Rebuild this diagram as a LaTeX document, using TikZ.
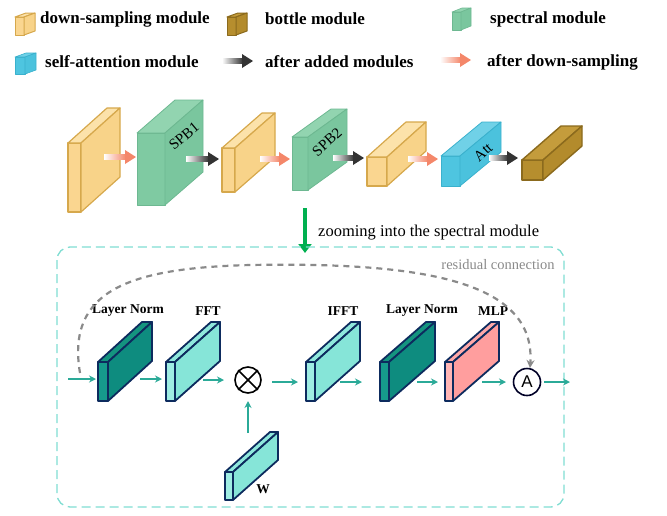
\documentclass[tikz,border=0pt]{standalone}
\usepackage{fontspec}
\setmainfont{Liberation Serif}
\setsansfont{Liberation Sans}
\usetikzlibrary{arrows.meta,calc}

% top-row colours
\definecolor{ylwF}{HTML}{FAD690}\definecolor{ylwT}{HTML}{FCE2AA}\definecolor{ylwS}{HTML}{F8D389}\definecolor{ylwE}{HTML}{D6A84C}
\definecolor{grnF}{HTML}{7FCAA2}\definecolor{grnT}{HTML}{92D4B0}\definecolor{grnS}{HTML}{7AC69E}\definecolor{grnE}{HTML}{6DB891}
\definecolor{cyaF}{HTML}{4EC5E0}\definecolor{cyaT}{HTML}{70D1E7}\definecolor{cyaS}{HTML}{4BC2DD}\definecolor{cyaE}{HTML}{3AB1CD}
\definecolor{gldF}{HTML}{B68E2E}\definecolor{gldT}{HTML}{C49C3C}\definecolor{gldS}{HTML}{B38B2C}\definecolor{gldE}{HTML}{8B6A1D}
% bottom slabs
\definecolor{dtlF}{HTML}{169A8C}\definecolor{dtlT}{HTML}{14947F}\definecolor{dtlS}{HTML}{0E8C7F}\definecolor{dtlE}{HTML}{0D2B5E}
\definecolor{aquF}{HTML}{9FEDE3}\definecolor{aquT}{HTML}{8FE8DC}\definecolor{aquS}{HTML}{86E5D8}\definecolor{aquE}{HTML}{0D2B5E}
\definecolor{pnkF}{HTML}{FFB5B5}\definecolor{pnkT}{HTML}{FFA8A8}\definecolor{pnkS}{HTML}{FF9E9E}\definecolor{pnkE}{HTML}{0D2B5E}
% others
\definecolor{salm}{HTML}{F4876A}
\definecolor{darkarr}{HTML}{333333}
\definecolor{tealA}{HTML}{2BAA98}
\definecolor{zoomgreen}{HTML}{00B050}
\definecolor{boxteal}{HTML}{80DDD2}
\definecolor{resgray}{HTML}{8A8A8A}

% cuboid: x y (front top-left), w h, dx dy (depth), colour prefix, line width
\newcommand\cuboid[8]{%
  \filldraw[fill=#7F,draw=#7E,line width=#8,line join=round] (#1,#2) rectangle (#1+#3,#2+#4);
  \filldraw[fill=#7T,draw=#7E,line width=#8,line join=round] (#1,#2) -- (#1+#3,#2) -- (#1+#3+#5,#2+#6) -- (#1+#5,#2+#6) -- cycle;
  \filldraw[fill=#7S,draw=#7E,line width=#8,line join=round] (#1+#3,#2) -- (#1+#3+#5,#2+#6) -- (#1+#3+#5,#2+#6+#4) -- (#1+#3,#2+#4) -- cycle;
}
% fading arrow between two named coordinates
\newcommand\fadearrow[3]{%
  \shade[left color=white,right color=#3] ($(#1)+(0,-2.6)$) rectangle ($(#2)+(-10,2.6)$);
  \fill[#3] ($(#2)+(-11,-7)$) -- (#2) -- ($(#2)+(-11,7)$) -- cycle;
}

\tikzset{
  legendtxt/.style={anchor=west,inner sep=0,font=\fontsize{17}{20}\selectfont\bfseries},
  blocklbl/.style={inner sep=0,font=\fontsize{15}{15}\selectfont},
  slablbl/.style={inner sep=0,font=\fontsize{13.5}{14}\selectfont\bfseries},
  tarrow/.style={draw=tealA,line width=1.6pt,-{Stealth[length=7pt,width=7pt]}},
  resid/.style={draw=resgray,line width=2.2pt,dash pattern=on 6pt off 5pt,-{Stealth[length=8pt,width=8pt]}},
}

\begin{document}
\begin{tikzpicture}[x=1pt,y=-1pt]
\useasboundingbox (0,0) rectangle (667,515);

% ---------- legend ----------
\cuboid{15}{17}{9}{18}{11}{-4}{ylw}{1pt}
\node[legendtxt] (lg1) at (40,19) {down-sampling module};
\cuboid{227}{17}{9}{18}{11}{-4}{gld}{1pt}
\node[legendtxt] (lg2) at (265,19) {bottle module};
\cuboid{452}{12}{9}{18}{10}{-4}{grn}{0.6pt}
\node[legendtxt] (lg3) at (490,19) {spectral module};
\cuboid{15}{57}{10}{17}{11}{-4}{cya}{0.6pt}
\node[legendtxt] (lg4) at (45,62) {self-attention module};
\coordinate (lga1s) at (222,61); \coordinate (lga1e) at (253,61);
\fadearrow{lga1s}{lga1e}{darkarr}
\node[legendtxt] (lg5) at (265,62) {after added modules};
\coordinate (lga2s) at (440,60); \coordinate (lga2e) at (471,60);
\fadearrow{lga2s}{lga2e}{salm}
\node[legendtxt] (lg6) at (487,62) {after down-sampling};

% ---------- top row ----------
\cuboid{68}{143}{13}{69}{39}{-35}{ylw}{1.2pt}
\coordinate (t1s) at (104,157); \coordinate (t1e) at (136,157);
\fadearrow{t1s}{t1e}{salm}
\cuboid{137}{133}{28}{72}{38}{-33}{grn}{0.8pt}
\node[blocklbl,rotate=40] (spb1) at (184,136) {SPB1};
\coordinate (t2s) at (186,159); \coordinate (t2e) at (219,159);
\fadearrow{t2s}{t2e}{darkarr}
\cuboid{222}{148}{13}{44}{40}{-35}{ylw}{1.2pt}
\coordinate (t3s) at (260,159); \coordinate (t3e) at (290,159);
\fadearrow{t3s}{t3e}{salm}
\cuboid{292}{137}{16}{53}{39}{-28}{grn}{0.8pt}
\node[blocklbl,rotate=42] (spb2) at (327,142) {SPB2};
\coordinate (t4s) at (333,158); \coordinate (t4e) at (364,158);
\fadearrow{t4s}{t4e}{darkarr}
\cuboid{367}{157}{20}{29}{39}{-35}{ylw}{1.2pt}
\coordinate (t5s) at (408,159); \coordinate (t5e) at (438,159);
\fadearrow{t5s}{t5e}{salm}
\cuboid{441}{156}{19}{30}{41}{-34}{cya}{0.8pt}
\node[blocklbl,rotate=42] (att) at (483,152) {Att};
\coordinate (t6s) at (489,158); \coordinate (t6e) at (518,158);
\fadearrow{t6s}{t6e}{darkarr}
\cuboid{522}{160}{21}{20}{39}{-34}{gld}{1.4pt}

% ---------- zoom arrow ----------
\coordinate (zs) at (305,208); \coordinate (ze) at (305,253);
\draw[draw=zoomgreen,line width=4.5pt,-{Triangle[length=9pt,width=13pt]}] (zs) -- (ze);
\node[anchor=west,inner sep=0,font=\fontsize{16.5}{18}\selectfont] (zoomtxt) at (318,233) {zooming into the spectral module};

% ---------- dashed frame ----------
\draw[draw=boxteal,line width=1.3pt,dash pattern=on 9pt off 5pt,rounded corners=13pt] (57,247) rectangle (564,507);
\node[inner sep=0,text=resgray,font=\fontsize{14.5}{15}\selectfont] (restxt) at (498,265) {residual connection};

% ---------- slabs ----------
\cuboid{98}{362}{10}{39}{44}{-40}{dtl}{1.8pt}
\node[slablbl] (lbl1) at (128,311) {Layer Norm};
\cuboid{166}{362}{9}{39}{45}{-40}{aqu}{1.8pt}
\node[slablbl] (lbl2) at (208,311) {FFT};
\cuboid{306}{362}{9}{39}{45}{-40}{aqu}{1.8pt}
\node[slablbl] (lbl3) at (343,311) {IFFT};
\cuboid{380}{362}{9}{39}{46}{-40}{dtl}{1.8pt}
\node[slablbl] (lbl4) at (422,311) {Layer Norm};
\cuboid{445}{362}{8}{39}{46}{-40}{pnk}{1.8pt}
\node[slablbl] (lbl5) at (493,311) {MLP};
\cuboid{225}{472}{8}{28}{45}{-40}{aqu}{1.8pt}
\node[slablbl] (lblw) at (263,489) {W};

% ---------- operators ----------
\node[circle,draw=black,line width=1.6pt,minimum size=26pt,inner sep=0] (otimes) at (248,380) {};
\draw[line width=1.6pt] (otimes.north east) -- (otimes.south west);
\draw[line width=1.6pt] (otimes.north west) -- (otimes.south east);
\node[circle,draw=black!85!blue,line width=1.6pt,minimum size=27pt,inner sep=0,font=\sffamily\fontsize{17}{17}\selectfont] (addA) at (527,382) {A};

% ---------- teal arrows ----------
\coordinate (in0) at (68,379);   \coordinate (in1) at (96,379);
\coordinate (a1s) at (140,379);  \coordinate (a1e) at (162,379);
\coordinate (a2s) at (203,380);  \coordinate (a2e) at (224,380);
\coordinate (a3s) at (272,382);  \coordinate (a3e) at (298,382);
\coordinate (a4s) at (340,382);  \coordinate (a4e) at (362,382);
\coordinate (a5s) at (417,382);  \coordinate (a5e) at (438,382);
\coordinate (a6s) at (482,382);  \coordinate (a6e) at (506,382);
\coordinate (out1) at (570,382);
\coordinate (wtop) at (248,433); \coordinate (wend) at (248,401);
\draw[tarrow] (in0) -- (in1);
\draw[tarrow] (a1s) -- (a1e);
\draw[tarrow] (a2s) -- (a2e);
\draw[tarrow] (a3s) -- (a3e);
\draw[tarrow] (a4s) -- (a4e);
\draw[tarrow] (a5s) -- (a5e);
\draw[tarrow] (a6s) -- (a6e);
\draw[tarrow] (addA.east) ++(3,0) -- (out1);
\draw[tarrow] (wtop) -- (wend);

% ---------- residual connection ----------
\coordinate (rs) at (80,373);
\coordinate (re) at (530,368);
\draw[resid] (rs) .. controls (66,290) and (130,268) .. (250,265) .. controls (420,262) and (536,280) .. (re);
\end{tikzpicture}
\end{document}
